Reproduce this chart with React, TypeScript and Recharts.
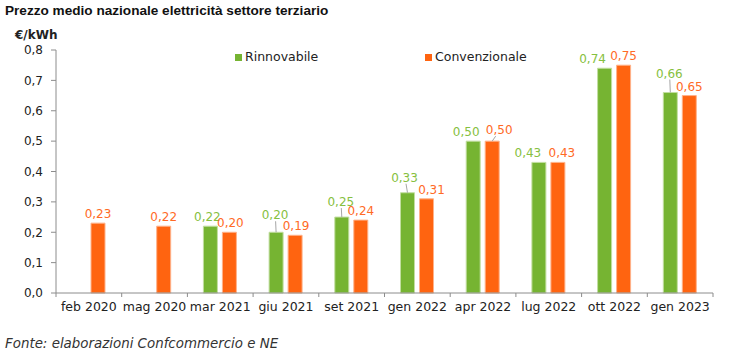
import { BarChart, Bar, XAxis, YAxis, LabelList } from 'recharts';

const periods = [
  'feb 2020',
  'mag 2020',
  'mar 2021',
  'giu 2021',
  'set 2021',
  'gen 2022',
  'apr 2022',
  'lug 2022',
  'ott 2022',
  'gen 2023',
];
const rinnovabile = [null, null, 0.22, 0.2, 0.25, 0.33, 0.5, 0.43, 0.74, 0.66];
const convenzionale = [0.23, 0.22, 0.2, 0.19, 0.24, 0.31, 0.5, 0.43, 0.75, 0.65];
const yTicks = [0, 0.1, 0.2, 0.3, 0.4, 0.5, 0.6, 0.7, 0.8];

const series = [
  { key: 'rinnovabile', name: 'Rinnovabile', fill: '#76b432', stroke: '#c2dea0', label: '#86c040' },
  { key: 'convenzionale', name: 'Convenzionale', fill: '#ff6410', stroke: '#ffb28a', label: '#ff6a26' },
];

// label nudges (dx, dy) where the original moved a label off its neighbour
const labelNudge: Record<string, Record<string, [number, number]>> = {
  rinnovabile: {
    'mar 2021': [-3, 0],
    'giu 2021': [-1, -8],
    'set 2021': [-1, -6],
    'gen 2022': [-3, -6],
    'apr 2022': [-7, 0],
    'lug 2022': [-11, 0],
    'ott 2022': [-12, 0],
    'gen 2023': [-1, -10],
  },
  convenzionale: {
    'mar 2021': [1, 0],
    'giu 2021': [1, 0],
    'gen 2022': [5, 0],
    'apr 2022': [7, -2],
    'lug 2022': [4, 0],
  },
};

const data = periods.map((p, i) => ({
  period: p,
  rinnovabile: rinnovabile[i],
  convenzionale: convenzionale[i],
}));

const W = 732;
const H = 320;
const LEFT = 56;
const RIGHT = 19;
const STEP = (W - LEFT - RIGHT) / periods.length;
const AXIS = '#8c8c8c';
const FONT = '"DejaVu Sans", Verdana, sans-serif';

const fmt = (v: number, d: number) => v.toFixed(d).replace('.', ',');

function XTick(props: any) {
  const { x, y, payload, index } = props;
  const ay = y - 9;
  return (
    <g>
      <line x1={x - STEP / 2} x2={x - STEP / 2} y1={ay} y2={ay + 4} stroke={AXIS} />
      {index === periods.length - 1 && (
        <line x1={x + STEP / 2} x2={x + STEP / 2} y1={ay} y2={ay + 4} stroke={AXIS} />
      )}
      <text x={x} y={y} dy="0.71em" textAnchor="middle" fill="#222" fontSize={12.5} fontFamily={FONT}>
        {payload.value}
      </text>
    </g>
  );
}

function makeLabel(key: string, color: string) {
  return (props: any) => {
    const { x, y, width, value } = props;
    if (value == null) return null;
    const cx = x + width / 2;
    const period = periods[Math.floor((cx - LEFT) / STEP)];
    const nudge = labelNudge[key]?.[period] ?? [0, 0];
    const ty = y - 5 + nudge[1];
    return (
      <g>
        {nudge[1] < 0 && (
          <line x1={cx} x2={cx + nudge[0] / 2} y1={y} y2={ty + 2} stroke="#a6a6a6" strokeWidth={1} />
        )}
        <text
          x={cx + nudge[0]}
          y={ty}
          textAnchor="middle"
          fill={color}
          fontSize={12}
          fontFamily={FONT}
        >
          {fmt(value, 2)}
        </text>
      </g>
    );
  };
}

export default function App() {
  return (
    <div
      style={{
        position: 'absolute',
        left: 0,
        top: 0,
        width: W,
        height: 359,
        background: '#fff',
        overflow: 'hidden',
      }}
    >
      <div
        style={{
          position: 'absolute',
          left: 5,
          top: 3,
          fontFamily: '"Liberation Sans", Arial, sans-serif',
          fontWeight: 'bold',
          fontSize: 13.6,
          lineHeight: '16px',
          color: '#111',
        }}
      >
        Prezzo medio nazionale elettricità settore terziario
      </div>
      <div
        style={{
          position: 'absolute',
          left: 15,
          top: 28,
          fontFamily: FONT,
          fontWeight: 'bold',
          fontSize: 12,
          color: '#222',
        }}
      >
        €/kWh
      </div>
      <div style={{ position: 'absolute', left: 0, top: 0 }}>
        <BarChart
          width={W}
          height={H}
          data={data}
          margin={{ top: 50, right: RIGHT, bottom: 5, left: 0 }}
          barSize={14}
          barGap={5}
        >
          <XAxis
            dataKey="period"
            height={22}
            axisLine={{ stroke: AXIS }}
            tickLine={false}
            tickSize={0}
            tickMargin={9}
            tick={<XTick />}
            interval={0}
          />
          <YAxis
            width={LEFT}
            domain={[0, 0.8]}
            ticks={yTicks}
            axisLine={{ stroke: AXIS }}
            tickLine={{ stroke: AXIS }}
            tickSize={5}
            tickMargin={8}
            tickFormatter={(v: number) => fmt(v, 1)}
            tick={{ fill: '#222', fontSize: 12, fontFamily: FONT }}
          />
          {series.map((s) => (
            <Bar
              key={s.key}
              dataKey={s.key}
              name={s.name}
              fill={s.fill}
              stroke={s.stroke}
              strokeWidth={1}
              isAnimationActive={false}
            >
              <LabelList dataKey={s.key} content={makeLabel(s.key, s.label)} />
            </Bar>
          ))}
        </BarChart>
      </div>
      {series.map((s, i) => (
        <div
          key={s.key}
          style={{
            position: 'absolute',
            left: i === 0 ? 235 : 425,
            top: 49,
            display: 'flex',
            alignItems: 'center',
            fontFamily: FONT,
            fontSize: 12.5,
            color: '#222',
            lineHeight: '16px',
          }}
        >
          <span style={{ width: 7, height: 7, background: s.fill, marginRight: 3 }} />
          {s.name}
        </div>
      ))}
      <div
        style={{
          position: 'absolute',
          left: 5,
          top: 336,
          fontFamily: '"DejaVu Sans", sans-serif',
          fontStyle: 'italic',
          fontSize: 13.4,
          color: '#333',
        }}
      >
        Fonte: elaborazioni Confcommercio e NE
      </div>
    </div>
  );
}
